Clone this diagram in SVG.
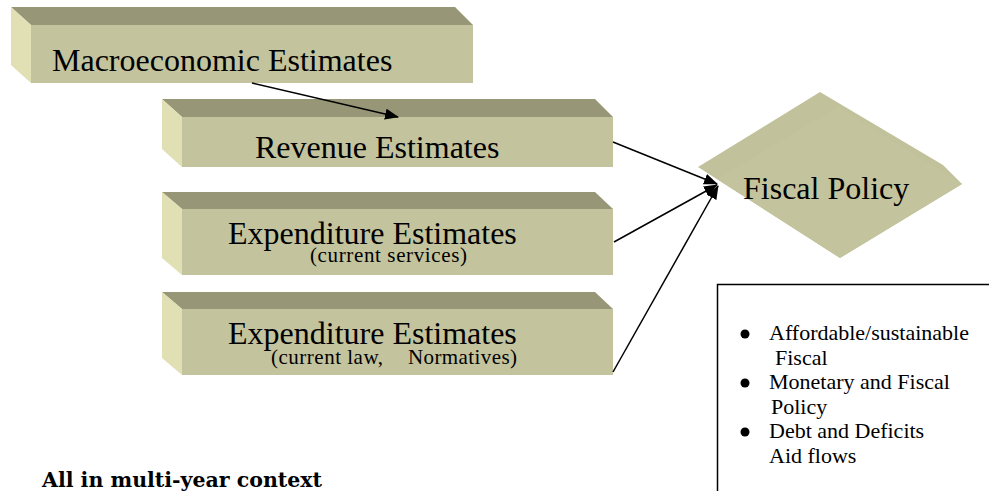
<svg xmlns="http://www.w3.org/2000/svg" width="989" height="491" viewBox="0 0 989 491">
  <style>
    .front { fill: #c3c39d; }
    .top { fill: #979777; }
    .side { fill: #e0e0b4; }
    .label { font-family: "Liberation Serif", "Times New Roman", serif; fill: #000; }
    .main { font-size: 32px; }
    .sub { font-size: 21px; }
    .bullet-text { font-family: "Liberation Serif", "Times New Roman", serif; font-size: 22px; fill: #000; }
    .conn { stroke: #000; stroke-width: 1.5; fill: none; marker-end: url(#arrow); }
  </style>
  <defs>
    <marker id="arrow" markerUnits="userSpaceOnUse" markerWidth="14" markerHeight="12" refX="13" refY="5.5" orient="auto">
      <path d="M0,0 L14,5.5 L0,11 z" fill="#000"/>
    </marker>
  </defs>

  <rect width="989" height="491" fill="#ffffff"/>

  <!-- Macroeconomic block -->
  <g id="macro">
    <polygon class="top" points="11,7 455,7 473,25 31,25"/>
    <polygon class="side" points="11,7 31,25 31,83 11,65"/>
    <rect class="front" x="31" y="25" width="442" height="58"/>
    <text class="label main" x="52" y="71">Macroeconomic Estimates</text>
  </g>

  <!-- Revenue block -->
  <g id="revenue">
    <polygon class="top" points="162,99 595,99 613,117 182,117"/>
    <polygon class="side" points="162,99 182,117 182,167 162,149"/>
    <rect class="front" x="182" y="117" width="431" height="50"/>
    <text class="label main" x="255" y="158">Revenue Estimates</text>
  </g>

  <!-- Expenditure block, current services -->
  <g id="expenditure-services">
    <polygon class="top" points="162,192 595,192 613,209 182,209"/>
    <polygon class="side" points="162,192 182,209 182,275 162,258"/>
    <rect class="front" x="182" y="209" width="431" height="66"/>
    <text class="label main" x="228" y="244">Expenditure Estimates</text>
    <text class="label sub" x="310" y="262" textLength="157" lengthAdjust="spacing">(current services)</text>
  </g>

  <!-- Expenditure block, current law -->
  <g id="expenditure-law">
    <polygon class="top" points="162,292 595,292 613,309 182,309"/>
    <polygon class="side" points="162,292 182,309 182,375 162,358"/>
    <rect class="front" x="182" y="309" width="431" height="66"/>
    <text class="label main" x="228" y="344">Expenditure Estimates</text>
    <text class="label sub" x="271" y="364" textLength="112" lengthAdjust="spacing">(current law,</text>
    <text class="label sub" x="408" y="364" textLength="109" lengthAdjust="spacing">Normatives)</text>
  </g>

  <!-- Fiscal policy decision -->
  <g id="fiscal-policy">
    <polygon fill="#c1c19b" points="820,92 943,165 962,184 840,258 698,167"/>
    <polygon class="front" points="717,179 838,107 962,184 840,258"/>
    <text class="label main" x="743" y="199">Fiscal Policy</text>
  </g>

  <!-- Notes box -->
  <g id="notes">
    <rect x="717.5" y="284.5" width="300" height="250" fill="#ffffff" stroke="#000" stroke-width="1.5"/>
    <circle cx="745" cy="334" r="4.5" fill="#000"/>
    <circle cx="745" cy="383" r="4.5" fill="#000"/>
    <circle cx="745" cy="432" r="4.5" fill="#000"/>
    <text class="bullet-text" x="769" y="340">Affordable/sustainable</text>
    <text class="bullet-text" x="775" y="364.5">Fiscal</text>
    <text class="bullet-text" x="769" y="389">Monetary and Fiscal</text>
    <text class="bullet-text" x="771" y="413.5">Policy</text>
    <text class="bullet-text" x="769" y="438">Debt and Deficits</text>
    <text class="bullet-text" x="769" y="462.5">Aid flows</text>
  </g>

  <!-- Footnote -->
  <g id="context">
    <text x="42" y="487" font-family="'DejaVu Serif', 'Liberation Serif', serif" font-weight="bold" font-size="20.5" fill="#000">All in multi-year context</text>
  </g>

  <!-- Connectors -->
  <g id="connectors">
    <line class="conn" x1="252" y1="83" x2="398" y2="117"/>
    <line class="conn" x1="613" y1="142" x2="717" y2="184"/>
    <line class="conn" x1="614" y1="242" x2="717" y2="185"/>
    <line class="conn" x1="613" y1="372" x2="718" y2="186"/>
  </g>
</svg>
